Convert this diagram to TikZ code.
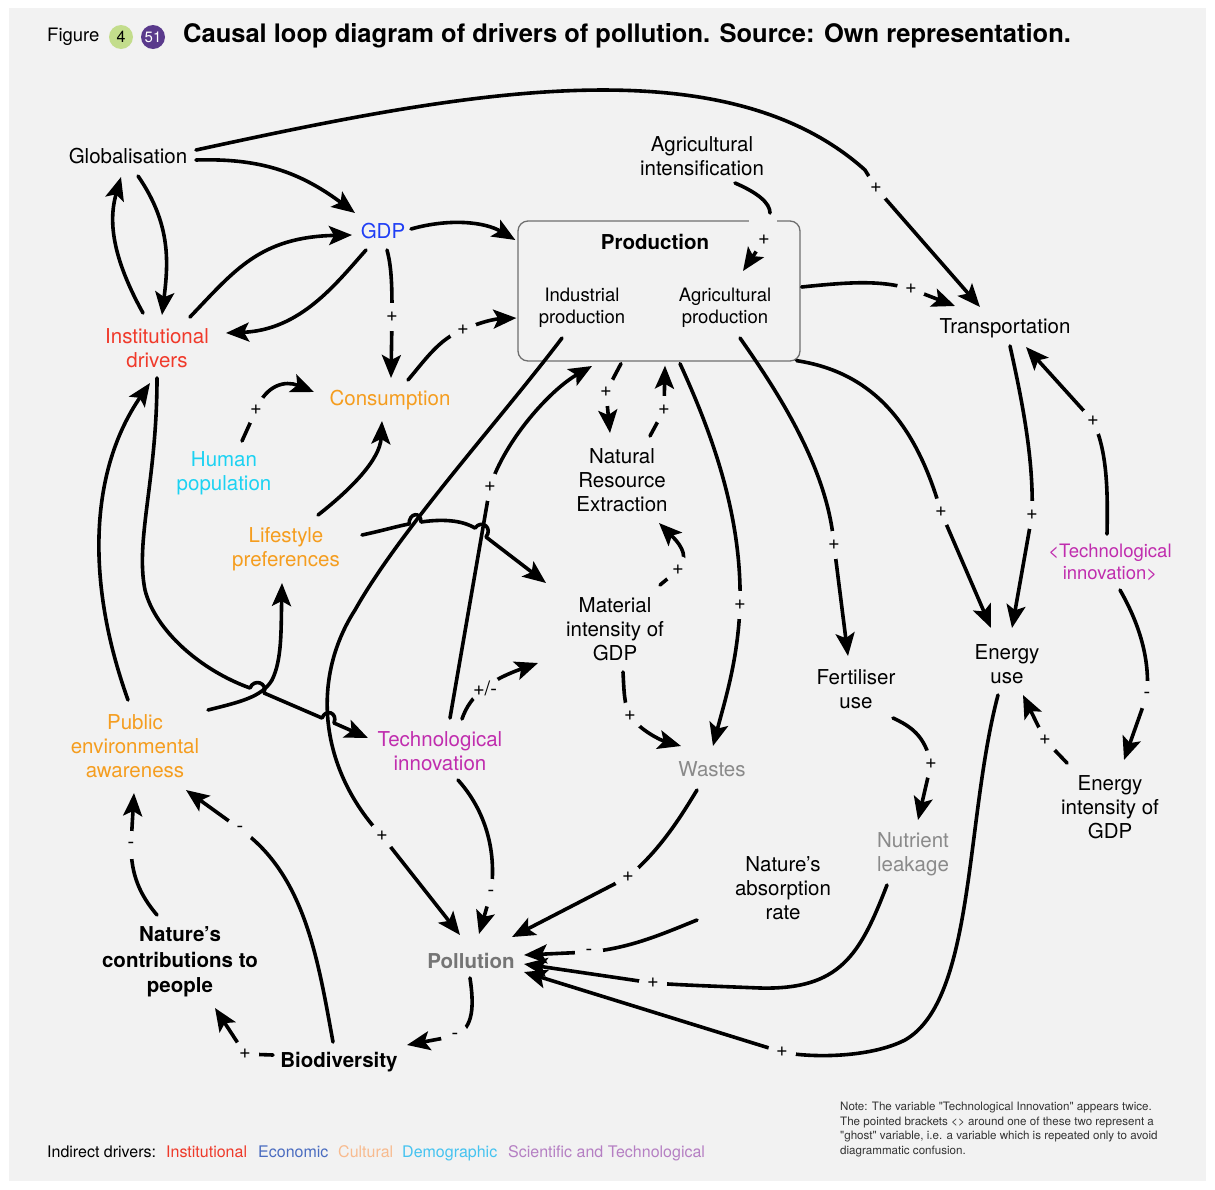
\documentclass[tikz,border=0pt]{standalone}
\usepackage{fontspec}
\setmainfont{TeX Gyre Heros}[Ligatures=TeXOff]
\usetikzlibrary{arrows.meta}
\definecolor{bg}{HTML}{F2F2F2}
\definecolor{boxgray}{HTML}{6E6E6E}
\definecolor{gdpblue}{HTML}{1F3EF5}
\definecolor{instred}{HTML}{F03A2B}
\definecolor{orange1}{HTML}{F59D1F}
\definecolor{cyan1}{HTML}{1CD2F2}
\definecolor{magenta1}{HTML}{C02DAE}
\definecolor{wastegray}{HTML}{8A8A8A}
\definecolor{pollgray}{HTML}{757575}
\definecolor{figgreen}{HTML}{C3DD8C}
\definecolor{figpurple}{HTML}{5A3A8C}
\definecolor{legred}{HTML}{EE3A2A}
\definecolor{legblue}{HTML}{4A6CC0}
\definecolor{legorange}{HTML}{F8BB8F}
\definecolor{legcyan}{HTML}{45C3F0}
\definecolor{legpurple}{HTML}{B57FC3}
\definecolor{notetext}{HTML}{333333}
\newcommand{\varfs}{\fontsize{20.5}{24}\selectfont}
\newcommand{\smallvarfs}{\fontsize{18.5}{22}\selectfont}
\begin{document}
\begin{tikzpicture}[x=1pt,y=-1pt,
  var/.style={align=center, inner sep=2pt, font=\varfs},
  conn/.style={line width=3.6pt, line cap=round, line join=round, -{Stealth[length=23pt,width=19pt,inset=5pt]}},
  lbl/.style={circle, fill=bg, inner sep=1pt, minimum size=28pt, font=\fontsize{20}{20}\selectfont, text=black}]
\useasboundingbox (0,0) rectangle (1215,1189);
\fill[white] (0,0) rectangle (1215,1189);
\fill[bg] (9,8) rectangle (1206,1181);

% title
\node[anchor=west, inner sep=0pt, font=\fontsize{18.5}{20}\selectfont] (fig) at (47,37) {Figure};
\node[circle, fill=figgreen, minimum size=24pt, inner sep=0pt, font=\fontsize{16}{16}\selectfont] (c4) at (121,37) {4};
\node[circle, fill=figpurple, text=white, minimum size=24pt, inner sep=0pt, font=\fontsize{15}{15}\selectfont] (c51) at (153,37) {51};
\node[anchor=west, inner sep=0pt, font=\bfseries\fontsize{25.5}{28}\selectfont] (title) at (183,36) {Causal loop diagram of drivers of pollution. Source: Own representation.};

% production box
\node[draw=boxgray, line width=1.3pt, rounded corners=10pt, minimum width=282pt, minimum height=140pt, inner sep=0pt] (prod) at (659,291) {};
\fill[bg] (749,217) rectangle (777,226);

% variables
\node[var] (glob) at (128,156) {Globalisation};
\node[var, text=gdpblue] (gdp) at (383,231) {GDP};
\node[var] (agint) at (702,156) {Agricultural\\intensification};
\node[var, font=\bfseries\varfs] (prodt) at (655,242) {Production};
\node[var, font=\smallvarfs] (indprod) at (582,308) {Industrial\\production};
\node[var, font=\smallvarfs] (agprod) at (725,308) {Agricultural\\production};
\node[var] (trans) at (1005,328) {Transportation};
\node[var, text=instred] (inst) at (157,348) {Institutional\\drivers};
\node[var, text=orange1] (cons) at (390,400) {Consumption};
\node[var, text=cyan1] (hpop) at (224,473) {Human\\population};
\node[var, text=orange1] (life) at (286,549) {Lifestyle\\preferences};
\node[var] (nre) at (622,480) {Natural\\Resource\\Extraction};
\node[var] (mat) at (615,629) {Material\\intensity of\\GDP};
\node[var, text=orange1] (pea) at (135,746) {Public\\environmental\\awareness};
\node[var, text=magenta1] (tech) at (440,751) {Technological\\innovation};
\node[var, text=wastegray] (wastes) at (712,769) {Wastes};
\node[var] (fert) at (856,689) {Fertiliser\\use};
\node[var] (energy) at (1007,664) {Energy\\use};
\node[var, text=magenta1, font=\smallvarfs] (tech2) at (1110,562) {<Technological\\innovation>};
\node[var] (eint) at (1110,807) {Energy\\intensity of\\GDP};
\node[var, text=wastegray] (nutr) at (913,854) {Nutrient\\leakage};
\node[var] (absr) at (783,888) {Nature’s\\absorption\\rate};
\node[var, text=pollgray, font=\bfseries\varfs] (poll) at (471,961) {Pollution};
\node[var, font=\bfseries\fontsize{20.5}{25.5}\selectfont] (ncp) at (180,962) {Nature’s\\contributions to\\people};
\node[var, font=\bfseries\varfs] (bio) at (339,1062) {Biodiversity};

% connectors
\draw[conn] ([shift={(68,-6)}]glob.center) .. controls (450,95) and (720,40) .. (865,170) -- (876,188) node[lbl]{+} -- ([shift={(-25,-21)}]trans.center);
\draw[conn] ([shift={(68,4)}]glob.center) .. controls (260,158) and (300,172) .. ([shift={(-28,-18)}]gdp.center);
\draw[conn] ([shift={(10,20)}]glob.center) .. controls (172,225) and (168,265) .. ([shift={(5,-33)}]inst.center);
\draw[conn] ([shift={(-14,-35)}]inst.center) .. controls (108,250) and (110,215) .. ([shift={(-7,21)}]glob.center);
\draw[conn] ([shift={(33,-31)}]inst.center) .. controls (235,270) and (260,237) .. ([shift={(-31,4)}]gdp.center);
\draw[conn] ([shift={(-17,19)}]gdp.center) .. controls (335,285) and (300,330) .. ([shift={(69,-15)}]inst.center);
\draw[conn] ([shift={(28,-2)}]gdp.center) .. controls (450,218) and (485,222) .. ([shift={(-2,-51)}]prod.west);
\draw[conn] ([shift={(4,19)}]gdp.center) .. controls (392,268) and (392,290) .. (392,317) node[lbl]{+} -- ([shift={(1,-22)}]cons.center);
\draw[conn] ([shift={(18,-20)}]cons.center) .. controls (425,360) and (440,338) .. (463,330) node[lbl]{+} .. controls (480,322) and (495,319) .. ([shift={(-1,27)}]prod.west);
\draw[conn] ([shift={(18,-32)}]hpop.center) -- (256,410) node[lbl]{+} .. controls (266,385) and (285,380) .. ([shift={(-76,-8)}]cons.center);
\draw[conn] ([shift={(32,-34)}]life.center) .. controls (350,490) and (380,460) .. ([shift={(-8,21)}]cons.center);
\draw[conn] ([shift={(76,-14)}]life.center) .. controls (385,530) and (398,526) .. (409,524) .. controls (409,513) and (421,511) .. (421,522) .. controls (448,518) and (465,522) .. (475,528) .. controls (482,519) and (493,528) .. (486,537) -- ([shift={(-69,-46)}]mat.center);
\draw[conn] ([shift={(73,-36)}]pea.center) .. controls (240,702) and (262,697) .. (272,680) .. controls (282,660) and (281,630) .. ([shift={(-4,34)}]life.center);
\draw[conn] ([shift={(0,30)}]inst.center) .. controls (157,480) and (135,540) .. (145,590) .. controls (155,630) and (200,670) .. (250,688) .. controls (254,678) and (268,683) .. (264,693) -- (322,718) .. controls (326,708) and (338,713) .. (334,723) -- ([shift={(-72,-13)}]tech.center);
\draw[conn] ([shift={(-7,-46)}]pea.center) .. controls (85,580) and (90,470) .. ([shift={(-7,35)}]inst.center);
\draw[conn] ([shift={(-20,30)}]indprod.center) .. controls (500,420) and (400,530) .. (355,610) .. controls (310,680) and (320,770) .. (382,836) node[lbl]{+} -- ([shift={(-11,-26)}]poll.center);
\draw[conn] ([shift={(10,-33)}]tech.center) -- (490,487) node[lbl]{+} .. controls (505,440) and (550,390) .. ([shift={(10,58)}]indprod.center);
\draw[conn] ([shift={(22,-32)}]tech.center) .. controls (470,695) and (490,680) .. ([shift={(-77,34)}]mat.center) node[lbl,pos=0.5]{+/-};
\draw[conn] ([shift={(18,29)}]tech.center) .. controls (485,810) and (497,850) .. (491,893) node[lbl]{-} -- ([shift={(8,-27)}]poll.center);
\draw[conn] ([shift={(-38,2)}]prod.south) -- (606,392) node[lbl]{+} -- ([shift={(-12,-47)}]nre.center);
\draw[conn] ([shift={(28,-44)}]nre.center) -- (664,410) node[lbl]{+} -- ([shift={(6,4)}]prod.south);
\draw[conn] ([shift={(45,-44)}]mat.center) -- (678,570) node[lbl]{+} .. controls (688,558) and (684,548) .. ([shift={(37,43)}]nre.center);
\draw[conn] ([shift={(8,43)}]mat.center) .. controls (624,690) and (624,705) .. (630,716) node[lbl]{+} .. controls (640,730) and (660,740) .. ([shift={(-31,-23)}]wastes.center);
\draw[conn] ([shift={(21,2)}]prod.south) .. controls (715,440) and (742,520) .. (740,605) node[lbl]{+} .. controls (738,660) and (725,700) .. ([shift={(1,-23)}]wastes.center);
\draw[conn] ([shift={(-15,21)}]wastes.center) .. controls (680,818) and (660,850) .. (628,877) node[lbl]{+} -- ([shift={(41,-24)}]poll.center);
\draw[conn] ([shift={(15,30)}]agprod.center) .. controls (780,395) and (828,470) .. (834,545) node[lbl]{+} -- ([shift={(-8,-33)}]fert.center);
\draw[conn] ([shift={(-4,-1)}]prod.south east) .. controls (870,372) and (915,420) .. (941,512) node[lbl]{+} -- ([shift={(-16,-36)}]energy.center);
\draw[conn] ([shift={(5,18)}]trans.center) .. controls (1022,400) and (1034,460) .. (1032,515) node[lbl]{+} -- ([shift={(5,-36)}]energy.center);
\draw[conn] ([shift={(-3,-28)}]tech2.center) .. controls (1108,490) and (1107,450) .. (1093,421) node[lbl]{+} -- ([shift={(21,19)}]trans.center);
\draw[conn] ([shift={(10,28)}]tech2.center) .. controls (1140,625) and (1150,660) .. (1147,695) node[lbl]{-} -- ([shift={(14,-47)}]eint.center);
\draw[conn] ([shift={(-43,-44)}]eint.center) -- (1045,740) node[lbl]{+} -- ([shift={(16,31)}]energy.center);
\draw[conn] ([shift={(1,-4)}]prod.east) .. controls (850,282) and (880,280) .. (911,289) node[lbl]{+} -- ([shift={(-50,-22)}]trans.center);
\draw[conn] ([shift={(33,27)}]agint.center) .. controls (758,193) and (770,203) .. (770,213) (764,240) node[lbl]{+} -- ([shift={(18,-37)}]agprod.center);
\draw[conn] ([shift={(37,29)}]fert.center) .. controls (910,726) and (925,735) .. (931,764) node[lbl]{+} -- ([shift={(5,-34)}]nutr.center);
\draw[conn] ([shift={(-26,31)}]nutr.center) .. controls (860,955) and (840,990) .. (760,988) .. controls (710,986) and (680,985) .. (653,983) node[lbl]{+} -- ([shift={(53,3)}]poll.center);
\draw[conn] ([shift={(-86,32)}]absr.center) .. controls (660,935) and (630,948) .. (589,952) node[lbl]{-} -- ([shift={(53,-6)}]poll.center);
\draw[conn] ([shift={(-9,31)}]energy.center) .. controls (965,820) and (975,1000) .. (905,1040) .. controls (870,1058) and (810,1058) .. (782,1052) node[lbl]{+} -- ([shift={(53,11)}]poll.center);
\draw[conn] ([shift={(-1,17)}]poll.center) .. controls (474,1005) and (474,1028) .. (455,1036) node[lbl]{-} -- ([shift={(68,-17)}]bio.center);
\draw[conn] ([shift={(-66,-7)}]bio.center) -- (245,1054) node[lbl]{+} -- ([shift={(35,46)}]ncp.center);
\draw[conn] ([shift={(-6,-20)}]bio.center) .. controls (318,960) and (305,875) .. (240,829) node[lbl]{-} -- ([shift={(51,44)}]pea.center);
\draw[conn] ([shift={(-23,-47)}]ncp.center) .. controls (140,895) and (131,875) .. (131,845) node[lbl]{-} -- ([shift={(-1,47)}]pea.center);

% legend
\node[anchor=base west, inner sep=0pt, font=\fontsize{16}{16}\selectfont] (leg0) at (47,1157) {Indirect drivers:};
\node[anchor=base west, inner sep=0pt, font=\fontsize{16}{16}\selectfont, text=legred] (leg1) at (166,1157) {Institutional};
\node[anchor=base west, inner sep=0pt, font=\fontsize{16}{16}\selectfont, text=legblue] (leg2) at (258,1157) {Economic};
\node[anchor=base west, inner sep=0pt, font=\fontsize{16}{16}\selectfont, text=legorange] (leg3) at (338,1157) {Cultural};
\node[anchor=base west, inner sep=0pt, font=\fontsize{16}{16}\selectfont, text=legcyan] (leg4) at (402,1157) {Demographic};
\node[anchor=base west, inner sep=0pt, font=\fontsize{16}{16}\selectfont, text=legpurple] (leg5) at (508,1157) {Scientific and Technological};

% note
\node[anchor=north west, inner sep=0pt, align=left, font=\fontsize{11.6}{14.5}\selectfont, text=notetext] (note) at (840,1102) {Note: The variable "Technological Innovation" appears twice.\\The pointed brackets <> around one of these two represent a\\"ghost" variable, i.e. a variable which is repeated only to avoid\\diagrammatic confusion.};
\end{tikzpicture}
\end{document}
